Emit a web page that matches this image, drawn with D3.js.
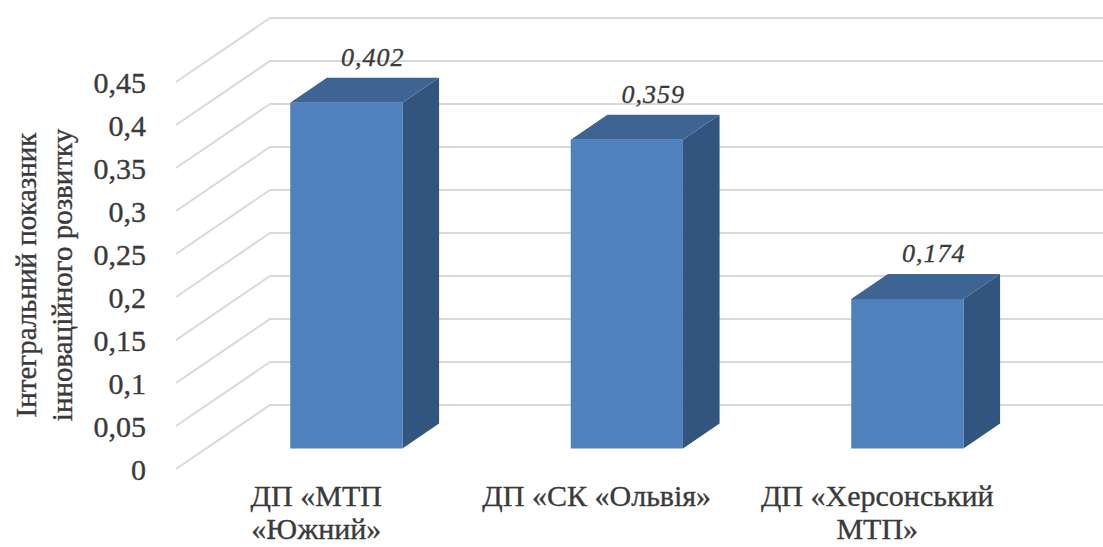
<!DOCTYPE html>
<html>
<head>
<meta charset="utf-8">
<script src="https://cdn.jsdelivr.net/npm/d3@7"></script>
<style>
  body { margin: 0; background: #fff; }
  svg text { font-family: "Liberation Serif", "Times New Roman", serif; fill: #3a3a3a; stroke: #3a3a3a; stroke-width: 0.35; }
</style>
</head>
<body>
<svg id="chart" width="1103" height="547"></svg>
<script>
// data
const categories = ["ДП «МТП «Южний»", "ДП «СК «Ольвія»", "ДП «Херсонський МТП»"];
const categoryLines = [["ДП «МТП", "«Южний»"], ["ДП «СК «Ольвія»"], ["ДП «Херсонський", "МТП»"]];
const values = [0.402, 0.359, 0.174];
const valueLabels = ["0,402", "0,359", "0,174"];
const yTicks = [0, 0.05, 0.1, 0.15, 0.2, 0.25, 0.3, 0.35, 0.4, 0.45];
const yTickLabels = ["0", "0,05", "0,1", "0,15", "0,2", "0,25", "0,3", "0,35", "0,4", "0,45"];
const yTitle = ["Інтегральний показник", "інноваційного розвитку"];

const svg = d3.select("#chart");

// front plane scales, depth goes back along (depthX, depthY)
const x = d3.scaleBand().domain(categories).range([176, 1017.5])
    .paddingInner(0.6).paddingOuter(0.3);
const y = d3.scaleLinear().domain([0, 0.45]).range([469, 82]);
const depthX = 94, depthY = -64;
const barZ0 = 0.32, barZ1 = 0.71;

function proj(px, py, z) {
    return [px + z * depthX, py + z * depthY];
}
function poly(pts) {
    return "M" + pts.map(p => p.join(",")).join("L") + "Z";
}

// gridlines: side wall diagonals + back wall horizontals
const grid = svg.append("g").attr("class", "grid");
yTicks.forEach(function (t) {
    let a = proj(x.range()[0], y(t), 0);
    let b = proj(x.range()[0], y(t), 1);
    let c = proj(x.range()[1], y(t), 1);
    grid.append("path")
        .attr("d", "M" + a + "L" + b + "L" + c)
        .attr("fill", "none")
        .attr("stroke", "#d9d9d9")
        .attr("stroke-width", 2);
});

// tick labels
svg.append("g").selectAll("text")
    .data(yTicks)
    .enter()
    .append("text")
    .attr("x", 146)
    .attr("y", d => y(d))
    .attr("dy", "0.35em")
    .attr("text-anchor", "end")
    .attr("font-size", 30)
    .text((d, i) => yTickLabels[i]);

// y title (two lines, rotated)
svg.append("g").selectAll("text")
    .data(yTitle)
    .enter()
    .append("text")
    .attr("transform", (d, i) => "translate(" + (i === 0 ? 36 : 72) + ",275) rotate(-90)")
    .attr("text-anchor", "middle")
    .attr("font-size", 29)
    .text(d => d);

// bars
const bars = svg.append("g").selectAll(".bar")
    .data(categories)
    .enter()
    .append("g")
    .attr("class", "bar");

bars.each(function (d, i) {
    let g = d3.select(this);
    let x0 = x(d), x1 = x(d) + x.bandwidth();
    let yb = y(0), yt = y(values[i]);
    // side face
    g.append("path")
        .attr("d", poly([proj(x1, yb, barZ0), proj(x1, yb, barZ1), proj(x1, yt, barZ1), proj(x1, yt, barZ0)]))
        .attr("fill", "#325580");
    // top face
    g.append("path")
        .attr("d", poly([proj(x0, yt, barZ0), proj(x1, yt, barZ0), proj(x1, yt, barZ1), proj(x0, yt, barZ1)]))
        .attr("fill", "#3d6492");
    // front face
    g.append("path")
        .attr("d", poly([proj(x0, yb, barZ0), proj(x1, yb, barZ0), proj(x1, yt, barZ0), proj(x0, yt, barZ0)]))
        .attr("fill", "#4f81bd");
    // value label
    let lp = proj(x(d) + x.bandwidth() / 2, yt, 0.6);
    g.append("text")
        .attr("x", lp[0])
        .attr("y", lp[1] - 19)
        .attr("text-anchor", "middle")
        .attr("font-size", 26)
        .attr("font-style", "italic")
        .attr("letter-spacing", 1)
        .text(valueLabels[i]);
});

// category labels
const cats = svg.append("g").selectAll(".cat")
    .data(categories)
    .enter()
    .append("text")
    .attr("class", "cat")
    .attr("text-anchor", "middle")
    .attr("font-size", 30)
    .attr("x", d => x(d) + x.bandwidth() / 2)
    .attr("y", 506);

cats.selectAll("tspan")
    .data((d, i) => categoryLines[i])
    .enter()
    .append("tspan")
    .attr("x", function () { return d3.select(this.parentNode).attr("x"); })
    .attr("dy", (d, j) => j === 0 ? 0 : 33)
    .text(d => d);
</script>
</body>
</html>
